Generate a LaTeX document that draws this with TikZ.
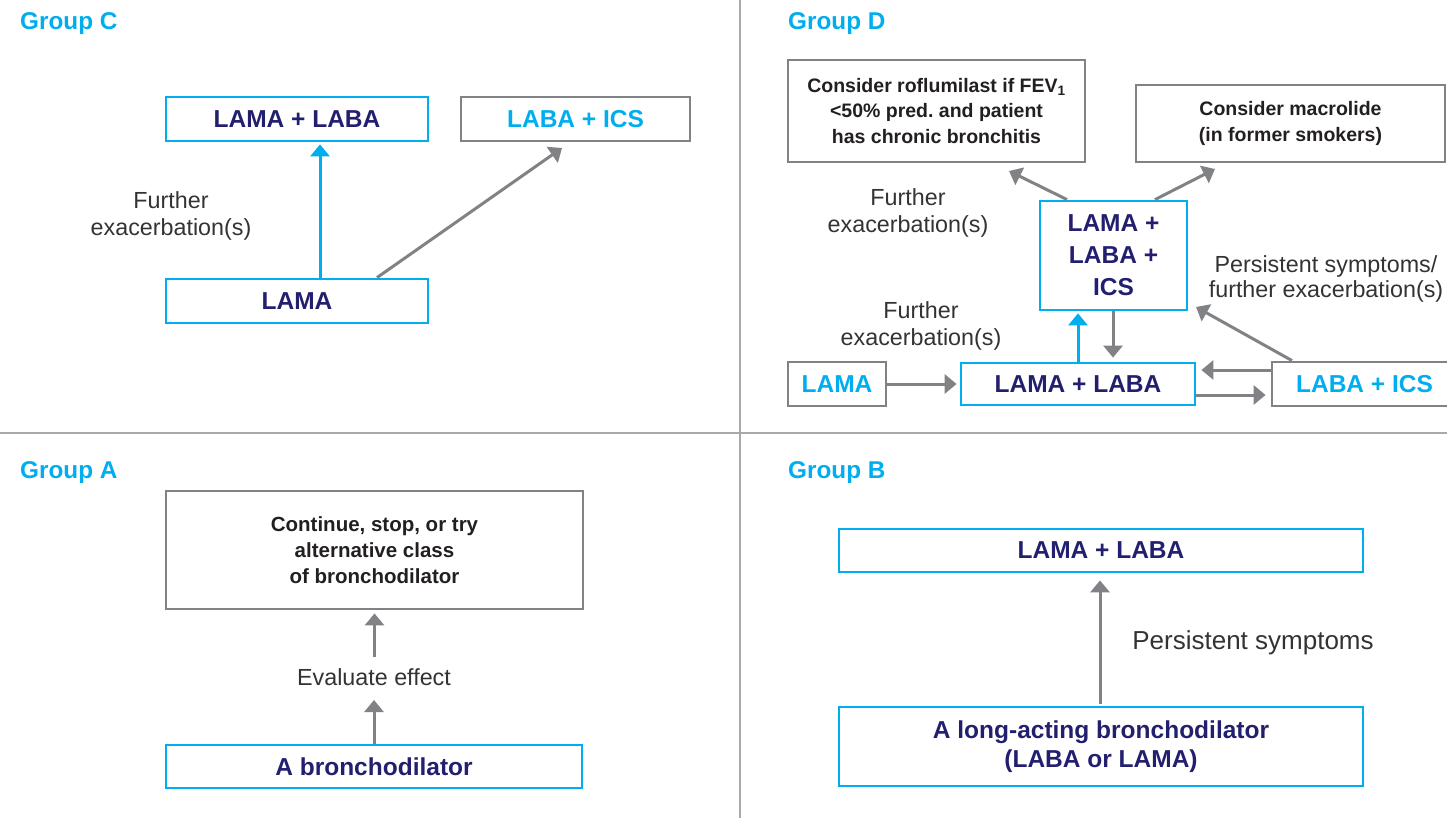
\documentclass[tikz,border=0pt]{standalone}
\usepackage{fontspec}
\setmainfont{Liberation Sans}
\usetikzlibrary{arrows.meta}

\definecolor{cyanblue}{HTML}{00AEEF}
\definecolor{navyblue}{HTML}{231F6F}
\definecolor{framegray}{HTML}{808285}
\definecolor{rulegray}{HTML}{A7A9AC}
\definecolor{inkgray}{HTML}{333333}
\definecolor{inkblack}{HTML}{231F20}

\begin{document}
\begin{tikzpicture}[x=1pt, y=-1pt, >={Triangle[length=12pt,width=19pt]},
	bluebox/.style={draw=cyanblue, line width=2.8pt, inner sep=0pt, align=center, text=navyblue, font=\fontsize{24.5}{32}\selectfont\bfseries},
	graybox/.style={draw=framegray, line width=2.8pt, inner sep=0pt, align=center, text=inkblack, font=\fontsize{19.5}{25.5}\selectfont\bfseries},
	cyantext/.style={text=cyanblue, font=\fontsize{24.5}{32}\selectfont\bfseries},
	note/.style={inner sep=0pt, align=center, text=inkgray, font=\fontsize{23.3}{27}\selectfont},
	title/.style={anchor=base west, inner sep=0pt, text=cyanblue, font=\fontsize{24.3}{28}\selectfont\bfseries},
	link/.style={draw=framegray, line width=3pt, ->},
	bluelink/.style={draw=cyanblue, line width=3pt, ->}]
	\useasboundingbox (0,0) rectangle (1447,818);
	\clip (0,0) rectangle (1447,818);
	% quadrant rules
	\draw[rulegray, line width=1.6pt] (740,0) -- (740,818);
	\draw[rulegray, line width=1.6pt] (0,433) -- (1447,433);

	% Group C
	\node[title] (titleC) at (20,30) {Group C};
	\node[bluebox, minimum width=262pt, minimum height=44pt] (cLamaLaba) at (297,119) {LAMA + LABA};
	\node[graybox, cyantext, minimum width=229pt, minimum height=44pt] (cLabaIcs) at (575.5,119) {LABA + ICS};
	\node[bluebox, minimum width=262pt, minimum height=44pt] (cLama) at (297,301) {LAMA};
	\node[note] (cNote) at (171,216) {Further\\exacerbation(s)};
	\coordinate (cTip) at (562,148);
	\draw[bluelink, shorten >=2pt] (cLama.north -| 320,0) -- (cLamaLaba.south -| 320,0);
	\draw[link] (cLama.north -| 377,0) -- (cTip);

	% Group D
	\node[title] (titleD) at (788,30) {Group D};
	\node[graybox, minimum width=297pt, minimum height=102pt] (dRoflu) at (936.5,111) {Consider roflumilast if FEV\textsubscript{1}\\<50\% pred.\ and patient\\has chronic bronchitis};
	\node[graybox, minimum width=309pt, minimum height=77pt] (dMacro) at (1290.5,123.5) {Consider macrolide\\(in former smokers)};
	\node[bluebox, minimum width=147pt, minimum height=109pt] (dTriple) at (1113.5,255.5) {LAMA +\\LABA +\\ICS};
	\node[graybox, cyantext, minimum width=98pt, minimum height=44pt] (dLama) at (837,384) {LAMA};
	\node[bluebox, minimum width=234pt, minimum height=42pt] (dLamaLaba) at (1078,384) {LAMA + LABA};
	\node[graybox, cyantext, minimum width=185pt, minimum height=44pt] (dLabaIcs) at (1364.5,384) {LABA + ICS};
	\node[note] (dNoteTop) at (908,213) {Further\\exacerbation(s)};
	\node[note] (dNoteLow) at (921,326) {Further\\exacerbation(s)};
	\node[note, font=\fontsize{23.3}{25}\selectfont] (dNoteRight) at (1326,279) {Persistent symptoms/\\further exacerbation(s)};
	\coordinate (dTipRoflu) at (1009,171);
	\coordinate (dTipMacro) at (1215,169);
	\coordinate (dTipTriple) at (1196,307);
	\draw[link] (dTriple.north -| 1067,0) -- (dTipRoflu);
	\draw[link] (dTriple.north -| 1155,0) -- (dTipMacro);
	\draw[link, shorten >=3pt] (dLama.east) -- (dLamaLaba.west);
	\draw[bluelink, shorten >=2pt] (dLamaLaba.north) -- (dTriple.south -| dLamaLaba.north);
	\draw[link, shorten >=4pt] (dTriple.south -| 1113,0) -- (dLamaLaba.north -| 1113,0);
	\draw[link, shorten >=5pt] (dLabaIcs.west |- 0,370) -- (dLamaLaba.east |- 0,370);
	\draw[link, shorten >=5pt] (dLamaLaba.east |- 0,395) -- (dLabaIcs.west |- 0,395);
	\draw[link] (dLabaIcs.north -| 1292,0) -- (dTipTriple);

	% Group A
	\node[title] (titleA) at (20,478) {Group A};
	\node[graybox, font=\fontsize{20.5}{26}\selectfont\bfseries, minimum width=417pt, minimum height=118pt] (aTop) at (374.5,550) {Continue, stop, or try\\alternative class\\of bronchodilator};
	\node[note] (aEval) at (374,677) {Evaluate effect};
	\node[bluebox, minimum width=416pt, minimum height=43pt] (aBottom) at (374,766.5) {A bronchodilator};
	\draw[link, shorten >=3pt] (aTop.south |- 0,657) -- (aTop.south);
	\draw[link] (aBottom.north -| aEval.south) -- (aEval.south |- 0,700);

	% Group B
	\node[title] (titleB) at (788,478) {Group B};
	\node[bluebox, minimum width=524pt, minimum height=43pt] (bTop) at (1101,550.5) {LAMA + LABA};
	\node[bluebox, font=\fontsize{24.5}{29}\selectfont\bfseries, minimum width=524pt, minimum height=79pt] (bBottom) at (1101,746.5) {A long-acting bronchodilator\\(LABA or LAMA)};
	\node[note, font=\fontsize{26}{30}\selectfont] (bNote) at (1253,643) {Persistent symptoms};
	\draw[link, shorten <=2pt, shorten >=7pt] (bBottom.north -| 1100,0) -- (bTop.south -| 1100,0);
\end{tikzpicture}
\end{document}
